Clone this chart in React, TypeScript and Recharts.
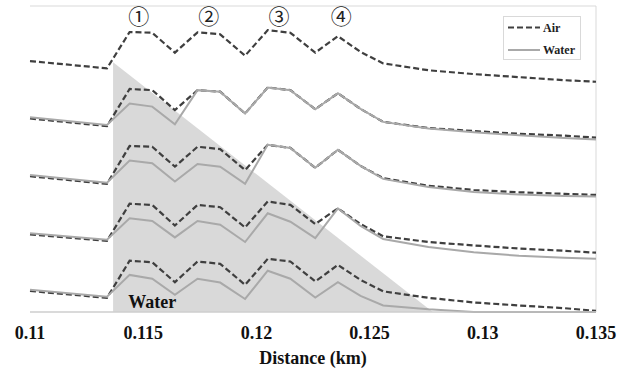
import React from "react";
import {
  ComposedChart,
  Line,
  Area,
  XAxis,
  YAxis,
  CartesianGrid,
  ReferenceLine,
  ReferenceDot,
  Legend,
} from "recharts";

// distance along the profile (km)
const distance = [
  0.11, 0.1134, 0.1144, 0.1154, 0.1164, 0.1174, 0.1184, 0.1195, 0.1205, 0.1215,
  0.1226, 0.1236, 0.1246, 0.1256, 0.1276, 0.1296, 0.1316, 0.1336, 0.135,
];

// stacked profiles, top (5) to bottom (1), offset by one grid step each
const air5 = [6.56, 6.37, 7.32, 7.3, 6.78, 7.31, 7.26, 6.7, 7.37, 7.3, 6.78, 7.21, 6.8, 6.5, 6.32, 6.22, 6.14, 6.06, 6.02];
const air4 = [5.06, 4.86, 5.83, 5.8, 5.28, 5.8, 5.76, 5.19, 5.87, 5.8, 5.3, 5.72, 5.31, 4.97, 4.81, 4.73, 4.66, 4.61, 4.56];
const water4 = [5.09, 4.89, 5.45, 5.37, 4.91, 5.8, 5.76, 5.19, 5.87, 5.8, 5.3, 5.72, 5.31, 4.97, 4.8, 4.7, 4.62, 4.55, 4.51];
const air3 = [3.55, 3.35, 4.34, 4.32, 3.8, 4.32, 4.26, 3.71, 4.37, 4.29, 3.77, 4.24, 3.82, 3.5, 3.3, 3.19, 3.13, 3.09, 3.06];
const water3 = [3.58, 3.38, 3.96, 3.89, 3.41, 3.87, 3.8, 3.35, 4.37, 4.29, 3.77, 4.24, 3.82, 3.48, 3.27, 3.14, 3.07, 3.03, 3.02];
const air2 = [2.03, 1.86, 2.83, 2.8, 2.26, 2.8, 2.74, 2.21, 2.89, 2.8, 2.3, 2.71, 2.3, 1.98, 1.83, 1.74, 1.66, 1.6, 1.55];
const water2 = [2.06, 1.89, 2.45, 2.38, 1.95, 2.38, 2.28, 1.83, 2.58, 2.36, 1.93, 2.71, 2.25, 1.91, 1.7, 1.56, 1.47, 1.42, 1.39];
const air1 = [0.55, 0.37, 1.34, 1.3, 0.78, 1.32, 1.26, 0.71, 1.39, 1.32, 0.8, 1.23, 0.84, 0.54, 0.37, 0.25, 0.17, 0.1, 0.03];
const water1 = [0.58, 0.4, 0.97, 0.87, 0.45, 0.87, 0.77, 0.34, 1.08, 0.87, 0.38, 0.78, 0.42, 0.17, 0.07, 0, 0, 0, 0];

// submerged wedge (triangle)
const waterEdgeX = [0.11367, 0.12779];
const waterEdgeLevel = [6.53, 0];

const xTicks = [0.11, 0.115, 0.12, 0.125, 0.13, 0.135];
const yTicks = [0, 1, 2, 3, 4, 5, 6, 7, 8];

// numbered peaks
const peakLabels = ["①", "②", "③", "④"];
const peakX = [0.1148, 0.1179, 0.121, 0.12375];
const peakY = 7.73;

const rows = distance.map((x, i) => ({
  x,
  air5: air5[i],
  air4: air4[i],
  water4: water4[i],
  air3: air3[i],
  water3: water3[i],
  air2: air2[i],
  water2: water2[i],
  air1: air1[i],
  water1: water1[i],
}));

const wedge = waterEdgeX.map((x, i) => ({ x, level: waterEdgeLevel[i] }));

const SERIF = "'Liberation Serif', 'Times New Roman', serif";
const AIR_COLOR = "#3f3f3f";
const WATER_COLOR = "#a9a9a9";
const GRID_COLOR = "#d9d9d9";

const LegendBox = () => (
  <div
    style={{
      width: 78,
      height: 44,
      boxSizing: "border-box",
      border: `1px solid ${GRID_COLOR}`,
      background: "#fff",
    }}
  >
    <svg width={76} height={42} style={{ display: "block" }}>
      <line x1={4} x2={36} y1={10.5} y2={10.5} stroke={AIR_COLOR} strokeWidth={2.2} strokeDasharray="6 3" />
      <text x={39} y={14.5} fontFamily={SERIF} fontWeight={700} fontSize={12} fill="#222">
        Air
      </text>
      <line x1={4} x2={36} y1={33} y2={33} stroke={WATER_COLOR} strokeWidth={2} />
      <text x={39} y={37} fontFamily={SERIF} fontWeight={700} fontSize={12} fill="#222">
        Water
      </text>
    </svg>
  </div>
);

const airLine = (key: string) => (
  <Line
    key={key}
    data={rows}
    dataKey={key}
    type="linear"
    stroke={AIR_COLOR}
    strokeWidth={2.2}
    strokeDasharray="6 3"
    dot={false}
    isAnimationActive={false}
  />
);

const waterLine = (key: string) => (
  <Line
    key={key}
    data={rows}
    dataKey={key}
    type="linear"
    stroke={WATER_COLOR}
    strokeWidth={2}
    dot={false}
    isAnimationActive={false}
  />
);

export default function App() {
  return (
    <div style={{ position: "absolute", left: 0, top: 0, background: "#fff" }}>
      <ComposedChart
        width={633}
        height={369}
        margin={{ top: 6, right: 37, bottom: 0, left: 30 }}
      >
        <CartesianGrid vertical={false} stroke={GRID_COLOR} />
        <XAxis
          dataKey="x"
          type="number"
          domain={[0.11, 0.135]}
          ticks={xTicks}
          allowDuplicatedCategory={false}
          height={57}
          axisLine={{ stroke: "#c8c8c8" }}
          tickLine={false}
          tickMargin={8}
          tick={{ fill: "#111", fontSize: 18, fontWeight: 700, fontFamily: SERIF }}
          label={{
            value: "Distance (km)",
            position: "insideBottom",
            offset: 5,
            fill: "#111",
            fontSize: 18,
            fontWeight: 700,
            fontFamily: SERIF,
          }}
        />
        <YAxis
          type="number"
          domain={[0, 8]}
          ticks={yTicks}
          width={0}
          tick={false}
          tickLine={false}
          axisLine={{ stroke: GRID_COLOR }}
        />
        <ReferenceLine x={0.135} stroke={GRID_COLOR} />
        <Area
          data={wedge}
          dataKey="level"
          type="linear"
          stroke="none"
          fill="#d9d9d9"
          fillOpacity={1}
          baseValue={0}
          isAnimationActive={false}
        />
        {airLine("air5")}
        {airLine("air4")}
        {waterLine("water4")}
        {airLine("air3")}
        {waterLine("water3")}
        {airLine("air2")}
        {waterLine("water2")}
        {airLine("air1")}
        {waterLine("water1")}
        {peakLabels.map((txt, i) => (
          <ReferenceDot
            key={txt}
            x={peakX[i]}
            y={peakY}
            r={0}
            fill="none"
            stroke="none"
            label={{
              value: txt,
              position: "center",
              fill: "#222",
              fontSize: 21,
              fontFamily: "'Noto Sans CJK JP', 'DejaVu Sans', sans-serif",
            }}
          />
        ))}
        <ReferenceDot
          x={0.1154}
          y={0.26}
          r={0}
          fill="none"
          stroke="none"
          label={{
            value: "Water",
            position: "center",
            fill: "#111",
            fontSize: 18,
            fontWeight: 700,
            fontFamily: SERIF,
          }}
        />
        <Legend
          layout="vertical"
          align="center"
          verticalAlign="middle"
          wrapperStyle={{ left: 503, top: 16, width: 78, height: 44 }}
          content={() => <LegendBox />}
        />
      </ComposedChart>
    </div>
  );
}
